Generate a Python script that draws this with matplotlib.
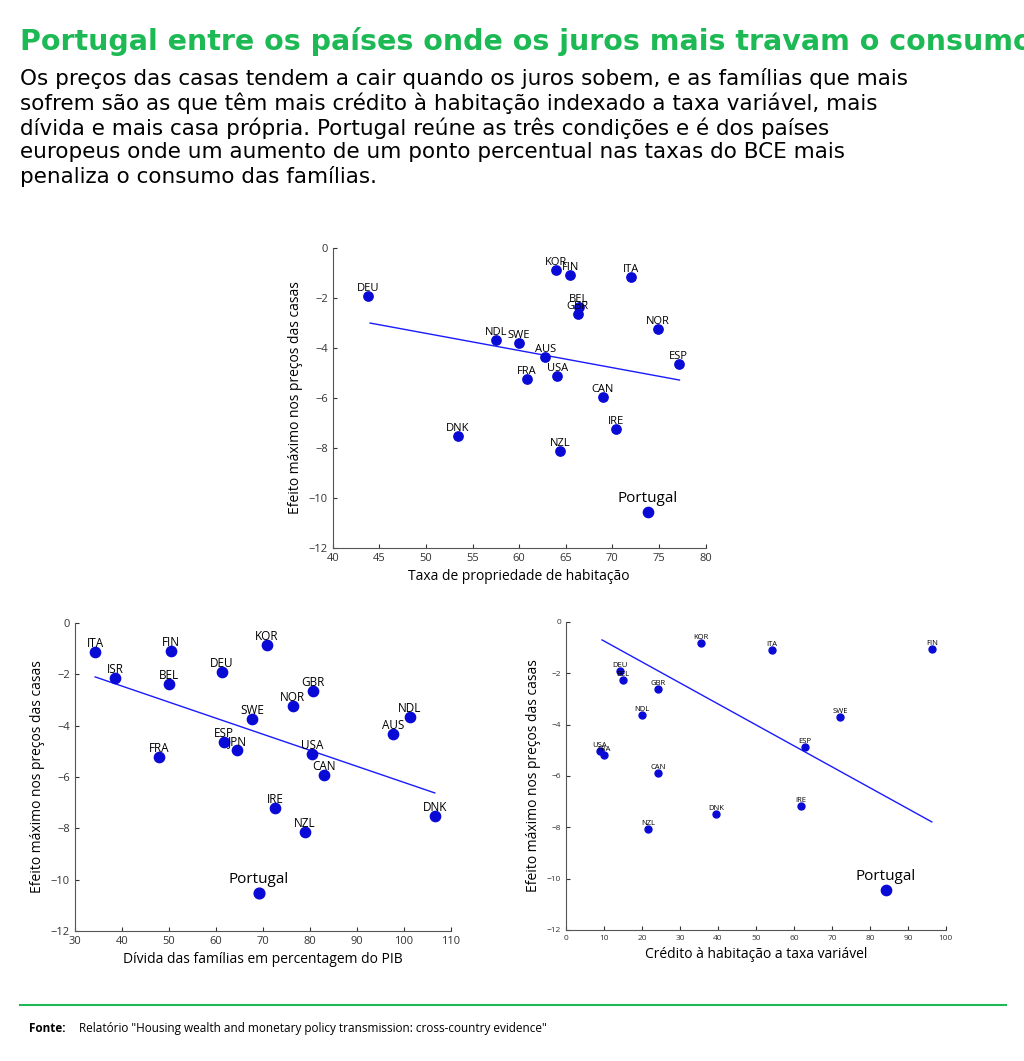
import matplotlib.pyplot as plt

plt.rcParams['font.family'] = ['Open Sans', 'DejaVu Sans']

# ---- data: top panel (home ownership rate) ----
top_lab = ["DEU", "KOR", "FIN", "ITA", "BEL", "GBR", "NOR", "NDL", "SWE", "AUS",
           "ESP", "USA", "FRA", "CAN", "IRE", "DNK", "NZL"]
top_x = [43.75, 63.9, 65.5, 72.0, 66.4, 66.3, 74.9, 57.5, 60.0, 62.8,
         77.1, 64.1, 60.8, 69.0, 70.4, 53.4, 64.4]
top_y = [-1.92, -0.88, -1.08, -1.16, -2.36, -2.64, -3.24, -3.68, -3.8, -4.36,
         -4.64, -5.12, -5.24, -5.96, -7.24, -7.52, -8.12]
top_pt = (73.8, -10.56)
top_trend_x = [44.0, 77.2]
top_trend_y = [-3.0, -5.28]

# ---- data: bottom-left panel (household debt % GDP) ----
bl_lab = ["ITA", "FIN", "KOR", "ISR", "DEU", "BEL", "GBR", "NOR", "SWE", "NDL",
          "AUS", "ESP", "JPN", "USA", "FRA", "CAN", "IRE", "DNK", "NZL"]
bl_x = [34.3, 50.4, 70.9, 38.5, 61.3, 50.0, 80.6, 76.4, 67.7, 101.3,
        97.7, 61.7, 64.5, 80.4, 47.9, 83.0, 72.6, 106.6, 78.9]
bl_y = [-1.13, -1.09, -0.86, -2.14, -1.91, -2.38, -2.65, -3.23, -3.74, -3.66,
        -4.32, -4.64, -4.95, -5.1, -5.22, -5.92, -7.2, -7.52, -8.14]
bl_pt = (69.1, -10.52)
bl_trend_x = [34.3, 106.6]
bl_trend_y = [-2.1, -6.62]

# ---- data: bottom-right panel (variable-rate mortgage credit) ----
br_lab = ["KOR", "ITA", "FIN", "DEU", "BEL", "GBR", "NDL", "SWE", "ESP", "USA",
          "FRA", "CAN", "DNK", "IRE", "NZL"]
br_x = [35.5, 54.2, 96.3, 14.2, 15.0, 24.2, 20.0, 72.1, 62.9, 8.9,
        10.0, 24.2, 39.5, 61.8, 21.6]
br_y = [-0.82, -1.09, -1.05, -1.91, -2.26, -2.61, -3.62, -3.7, -4.87, -5.03,
        -5.18, -5.88, -7.48, -7.17, -8.06]
br_pt = (84.2, -10.44)
br_trend_x = [9.5, 96.3]
br_trend_y = [-0.7, -7.79]

dot_c = "#0a0ad6"
ylab = "Efeito máximo nos preços das casas"

fig = plt.figure(figsize=(10.24, 10.61), dpi=100)


def panel(rect, xs, ys, labs, pt, tx, ty, xlim, xticks, xlabel, fs_tick, fs_lab, ms, pms):
    ax = fig.add_axes(rect)
    ax.plot(tx, ty, color="#1a1aff", lw=1)
    ax.scatter(xs, ys, s=ms, color=dot_c, zorder=3)
    for x, y, t in zip(xs, ys, labs):
        ax.text(x, y + 0.08, t, ha="center", va="bottom", fontsize=fs_lab)
    ax.scatter([pt[0]], [pt[1]], s=pms, color=dot_c, zorder=3)
    ax.text(pt[0], pt[1] + 0.25, "Portugal", ha="center", va="bottom", fontsize=11)
    ax.set_xlim(xlim)
    ax.set_ylim(-12, 0)
    ax.set_xticks(xticks)
    ax.set_yticks(range(-12, 1, 2))
    for s in ["top", "right"]:
        ax.spines[s].set_visible(False)
    for s in ["left", "bottom"]:
        ax.spines[s].set_color("#555555")
    ax.tick_params(labelsize=fs_tick, colors="#333333", length=3, direction="in")
    ax.set_xlabel(xlabel, fontsize=10)
    ax.set_ylabel(ylab, fontsize=10)
    return ax


panel([0.325, 0.4835, 0.364, 0.2827], top_x, top_y, top_lab, top_pt,
      top_trend_x, top_trend_y, (40, 80), range(40, 81, 5),
      "Taxa de propriedade de habitação", 8, 8, 45, 55)
panel([0.0732, 0.1225, 0.367, 0.2903], bl_x, bl_y, bl_lab, bl_pt,
      bl_trend_x, bl_trend_y, (30, 110), range(30, 111, 10),
      "Dívida das famílias em percentagem do PIB", 8, 8.5, 55, 60)
panel([0.5527, 0.1235, 0.371, 0.2903], br_x, br_y, br_lab, br_pt,
      br_trend_x, br_trend_y, (0, 100), range(0, 101, 10),
      "Crédito à habitação a taxa variável", 6, 5.5, 25, 55)

head_font = ['DejaVu Sans']
fig.text(0.02, 0.961, "Portugal entre os países onde os juros mais travam o consumo",
         fontsize=20.5, fontweight="bold", color="#1db954", va="center", family=head_font)
fig.text(0.02, 0.936,
         "Os preços das casas tendem a cair quando os juros sobem, e as famílias que mais\n"
         "sofrem são as que têm mais crédito à habitação indexado a taxa variável, mais\n"
         "dívida e mais casa própria. Portugal reúne as três condições e é dos países\n"
         "europeus onde um aumento de um ponto percentual nas taxas do BCE mais\n"
         "penaliza o consumo das famílias.",
         fontsize=15.5, va="top", linespacing=1.2, family=head_font)
fig.add_artist(plt.Line2D([0.02, 0.982], [0.0528, 0.0528], color="#1db954", lw=1.5))
fig.text(0.028, 0.031, "Fonte:", fontsize=8.5, va="center", fontweight="bold")
fig.text(0.077, 0.031,
         "Relatório \"Housing wealth and monetary policy transmission: cross-country evidence\"",
         fontsize=8.5, va="center")

fig.savefig("out.png", dpi=100)
